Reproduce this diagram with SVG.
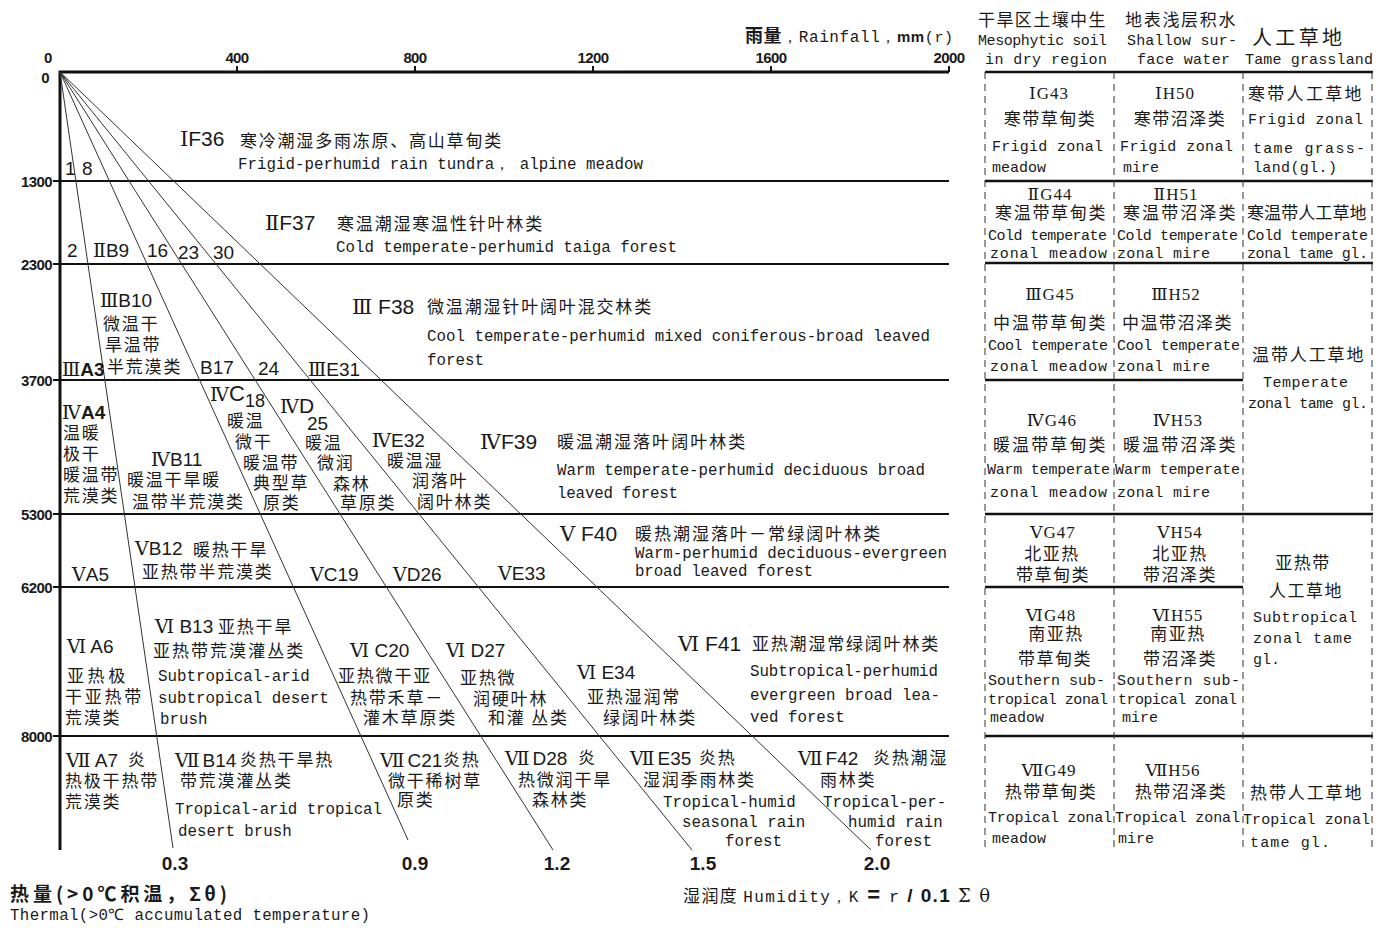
<svg xmlns="http://www.w3.org/2000/svg" width="1390" height="928" viewBox="0 0 1390 928">
<style>
text{fill:#1a1a1a}
.ax{font-family:"Liberation Sans",Arial,sans-serif;font-size:15px;font-weight:bold;letter-spacing:-0.6px}
.axl{font-family:"Liberation Sans",Arial,sans-serif;font-size:15px;font-weight:bold;letter-spacing:-0.6px;text-anchor:end}
.num{font-family:"Liberation Sans",Arial,sans-serif;font-size:19px;font-weight:bold;text-anchor:middle}
.cd{font-family:"Liberation Sans",Arial,sans-serif;font-size:19px}
.cdl{font-family:"Liberation Sans",Arial,sans-serif;font-size:21px}
.rn{font-family:"DejaVu Serif","Liberation Serif",serif;font-weight:normal}
.zh{font-family:"Noto Sans CJK SC",sans-serif;font-size:17px;letter-spacing:1.8px}
.en{font-family:"Liberation Mono",monospace;font-size:15.8px}
.tzh{font-family:"Noto Sans CJK SC",sans-serif;font-size:17px;letter-spacing:1.5px}
.tzc{font-family:"Noto Sans CJK SC",sans-serif;font-size:17px;letter-spacing:1.5px;text-anchor:middle}
.tcd{font-family:"Liberation Serif",serif;font-size:17px;text-anchor:middle;letter-spacing:1px}
.ten{font-family:"Liberation Mono",monospace;font-size:15px}
.grid{stroke:#111;stroke-width:2;fill:none}
.axis{stroke:#111;stroke-width:3;fill:none}
.tick{stroke:#111;stroke-width:2;fill:none}
.ray{stroke:#333;stroke-width:1;fill:none}
.tl{stroke:#111;stroke-width:2.5;fill:none}
.dash{stroke:#333;stroke-width:1;stroke-dasharray:7 5;fill:none}
</style>
<rect x="0" y="0" width="1390" height="928" fill="#ffffff"/>

<g id="axes">
  <path class="axis" d="M60 72 H949 M60 70.5 V850"/>
  <path class="grid" d="M60 181 H949 M60 264 H949 M60 380 H949 M60 514 H949 M60 587 H949 M60 736 H949"/>
  <path class="tick" d="M237 66 V72 M415 66 V72 M593 66 V72 M771 66 V72 M949 66 V72 M53 181 H60 M53 264 H60 M53 380 H60 M53 514 H60 M53 587 H60 M53 736 H60"/>
  <text class="ax" x="44" y="63">0</text>
  <text class="ax" x="237" y="63" text-anchor="middle">400</text>
  <text class="ax" x="415" y="63" text-anchor="middle">800</text>
  <text class="ax" x="593" y="63" text-anchor="middle">1200</text>
  <text class="ax" x="771" y="63" text-anchor="middle">1600</text>
  <text class="ax" x="949" y="63" text-anchor="middle">2000</text>
  <text class="axl" x="49" y="83">0</text>
  <text class="axl" x="52" y="187">1300</text>
  <text class="axl" x="52" y="270">2300</text>
  <text class="axl" x="52" y="386">3700</text>
  <text class="axl" x="52" y="520">5300</text>
  <text class="axl" x="52" y="593">6200</text>
  <text class="axl" x="52" y="742">8000</text>
  <text x="745" y="42" textLength="208"><tspan font-family="Noto Sans CJK SC,sans-serif" font-size="18" font-weight="bold">雨量</tspan><tspan font-family="Liberation Mono,monospace" font-size="16">，Rainfall，</tspan><tspan font-family="Liberation Sans,sans-serif" font-size="15" font-weight="bold">mm</tspan><tspan font-family="Liberation Mono,monospace" font-size="15">(r)</tspan></text>
  <text class="num" x="175" y="870">0.3</text>
  <text class="num" x="415" y="870">0.9</text>
  <text class="num" x="557" y="870">1.2</text>
  <text class="num" x="703" y="870">1.5</text>
  <text class="num" x="877" y="870">2.0</text>
  <text x="10" y="901" textLength="217" font-family="Noto Sans CJK SC,sans-serif" font-size="19" font-weight="bold">热量(&gt;0℃积温，Σθ)</text>
  <text class="en" x="10" y="920" textLength="360">Thermal(&gt;0℃ accumulated temperature)</text>
  <text x="683" y="902" textLength="307"><tspan font-family="Noto Sans CJK SC,sans-serif" font-size="17">湿润度 </tspan><tspan font-family="Liberation Mono,monospace" font-size="16">Humidity，K</tspan><tspan font-family="Liberation Sans,sans-serif" font-size="22" font-weight="bold"> = </tspan><tspan font-family="Liberation Mono,monospace" font-size="17">r</tspan><tspan font-family="Liberation Sans,sans-serif" font-size="19" font-weight="bold"> / 0.1 </tspan><tspan font-family="DejaVu Serif,serif" font-size="18">Σ θ</tspan></text>
</g>

<g id="connectors">
  <line class="ray" x1="60" y1="72" x2="173" y2="848"/>
  <line class="ray" x1="60" y1="72" x2="408" y2="840"/>
  <line class="ray" x1="60" y1="72" x2="553" y2="850"/>
  <line class="ray" x1="60" y1="72" x2="692" y2="850"/>
  <line class="ray" x1="60" y1="72" x2="871" y2="850"/>
</g>

<g id="n1"><text class="cd" x="65" y="175" font-size="18">1</text></g>
<g id="n8"><text class="cd" x="82" y="175" font-size="18">8</text></g>
<g id="IF36">
  <text class="cdl" x="180" y="146"><tspan class="rn">Ⅰ</tspan>F36</text>
  <text class="zh" x="240" y="147" textLength="263">寒冷潮湿多雨冻原、高山草甸类</text>
  <text class="en" x="238" y="169" textLength="405">Frigid-perhumid rain tundra， alpine meadow</text>
</g>
<g id="n2"><text class="cd" x="67" y="257" font-size="18">2</text></g>
<g id="IIB9"><text class="cd" x="93" y="257"><tspan class="rn">Ⅱ</tspan>B9</text></g>
<g id="n16"><text class="cd" x="147" y="257" font-size="18">16</text></g>
<g id="n23"><text class="cd" x="178" y="259" font-size="18">23</text></g>
<g id="n30"><text class="cd" x="213" y="259" font-size="18">30</text></g>
<g id="IIF37">
  <text class="cdl" x="265" y="230"><tspan class="rn">Ⅱ</tspan>F37</text>
  <text class="zh" x="337" y="230" textLength="207">寒温潮湿寒温性针叶林类</text>
  <text class="en" x="336" y="252" textLength="341">Cold temperate-perhumid taiga forest</text>
</g>

<g id="IIIA3"><text class="cd" x="62" y="376" font-size="17" font-weight="bold"><tspan class="rn">Ⅲ</tspan>A3</text></g>
<g id="IIIB10">
  <text class="cd" x="100" y="307"><tspan class="rn">Ⅲ</tspan>B10</text>
  <text class="zh" x="103" y="330">微温干</text>
  <text class="zh" x="105" y="351">旱温带</text>
  <text class="zh" x="107" y="373">半荒漠类</text>
</g>
<g id="B17"><text class="cd" x="200" y="374">B17</text></g>
<g id="n24"><text class="cd" x="258" y="375">24</text></g>
<g id="IIIE31"><text class="cd" x="308" y="376"><tspan class="rn">Ⅲ</tspan>E31</text></g>
<g id="IIIF38">
  <text class="cdl" x="352" y="314"><tspan class="rn">Ⅲ</tspan> F38</text>
  <text class="zh" x="427" y="313" textLength="226">微温潮湿针叶阔叶混交林类</text>
  <text class="en" x="427" y="341" textLength="503">Cool temperate-perhumid mixed coniferous-broad leaved</text>
  <text class="en" x="427" y="365">forest</text>
</g>

<g id="IVA4">
  <text class="cd" x="62" y="419" font-size="17" font-weight="bold"><tspan class="rn">Ⅳ</tspan>A4</text>
  <text class="zh" x="63" y="439">温暖</text>
  <text class="zh" x="63" y="460">极干</text>
  <text class="zh" x="63" y="481">暖温带</text>
  <text class="zh" x="63" y="502">荒漠类</text>
</g>
<g id="IVB11">
  <text class="cd" x="151" y="466"><tspan class="rn">Ⅳ</tspan>B11</text>
  <text class="zh" x="127" y="486">暖温干旱暖</text>
  <text class="zh" x="132" y="508">温带半荒漠类</text>
</g>
<g id="IVC18">
  <text class="cd" x="210" y="401"><tspan class="rn">Ⅳ</tspan><tspan font-size="22">C</tspan><tspan font-size="18" dy="6">18</tspan></text>
  <text class="zh" x="227" y="427">暖温</text>
  <text class="zh" x="235" y="448">微干</text>
  <text class="zh" x="243" y="469">暖温带</text>
  <text class="zh" x="253" y="489">典型草</text>
  <text class="zh" x="263" y="509">原类</text>
</g>
<g id="IVD25">
  <text class="cd" x="280" y="413"><tspan class="rn">Ⅳ</tspan><tspan font-size="21">D</tspan></text>
  <text class="cd" x="307" y="430" font-size="18">25</text>
  <text class="zh" x="305" y="449">暖温</text>
  <text class="zh" x="317" y="469">微润</text>
  <text class="zh" x="333" y="490">森林</text>
  <text class="zh" x="340" y="509">草原类</text>
</g>
<g id="IVE32">
  <text class="cd" x="372" y="447" font-size="20"><tspan class="rn">Ⅳ</tspan>E32</text>
  <text class="zh" x="387" y="467">暖温湿</text>
  <text class="zh" x="412" y="487">润落叶</text>
  <text class="zh" x="417" y="508">阔叶林类</text>
</g>
<g id="IVF39">
  <text class="cdl" x="480" y="449"><tspan class="rn">Ⅳ</tspan>F39</text>
  <text class="zh" x="557" y="448" textLength="190">暖温潮湿落叶阔叶林类</text>
  <text class="en" x="557" y="475" textLength="368">Warm temperate-perhumid deciduous broad</text>
  <text class="en" x="557" y="498" textLength="121">leaved forest</text>
</g>

<g id="VA5"><text class="cd" x="72" y="581"><tspan class="rn">Ⅴ</tspan>A5</text></g>
<g id="VB12">
  <text class="cd" x="135" y="555"><tspan class="rn">Ⅴ</tspan>B12</text>
  <text class="zh" x="193" y="556">暖热干旱</text>
  <text class="zh" x="142" y="578">亚热带半荒漠类</text>
</g>
<g id="VC19"><text class="cd" x="310" y="581"><tspan class="rn">Ⅴ</tspan>C19</text></g>
<g id="VD26"><text class="cd" x="393" y="581"><tspan class="rn">Ⅴ</tspan>D26</text></g>
<g id="VE33"><text class="cd" x="498" y="580"><tspan class="rn">Ⅴ</tspan>E33</text></g>
<g id="VF40">
  <text class="cdl" x="560" y="541"><tspan class="rn">Ⅴ</tspan> F40</text>
  <text class="zh" x="635" y="540" textLength="247">暖热潮湿落叶－常绿阔叶林类</text>
  <text class="en" x="635" y="558" textLength="312">Warm-perhumid deciduous-evergreen</text>
  <text class="en" x="635" y="576" textLength="178">broad leaved forest</text>
</g>

<g id="VIA6">
  <text class="cd" x="67" y="653" font-size="20"><tspan class="rn">Ⅵ</tspan> A6</text>
  <text class="zh" x="67" y="682" textLength="60">亚热极</text>
  <text class="zh" x="65" y="703" textLength="78">干亚热带</text>
  <text class="zh" x="65" y="724">荒漠类</text>
</g>
<g id="VIB13">
  <text class="cd" x="155" y="633" font-size="21"><tspan class="rn">Ⅵ</tspan> B13</text>
  <text class="zh" x="218" y="633">亚热干旱</text>
  <text class="zh" x="153" y="657" textLength="152">亚热带荒漠灌丛类</text>
  <text class="en" x="158" y="681">Subtropical-arid</text>
  <text class="en" x="158" y="703">subtropical desert</text>
  <text class="en" x="160" y="724">brush</text>
</g>
<g id="VIC20">
  <text class="cd" x="350" y="657" font-size="21"><tspan class="rn">Ⅵ</tspan> C20</text>
  <text class="zh" x="338" y="682">亚热微干亚</text>
  <text class="zh" x="350" y="704">热带禾草－</text>
  <text class="zh" x="363" y="724">灌木草原类</text>
</g>
<g id="VID27">
  <text class="cd" x="446" y="657" font-size="21"><tspan class="rn">Ⅵ</tspan> D27</text>
  <text class="zh" x="460" y="684">亚热微</text>
  <text class="zh" x="473" y="705">润硬叶林</text>
  <text class="zh" x="488" y="724">和灌 丛类</text>
</g>
<g id="VIE34">
  <text class="cd" x="577" y="679" font-size="21"><tspan class="rn">Ⅵ</tspan> E34</text>
  <text class="zh" x="587" y="703">亚热湿润常</text>
  <text class="zh" x="603" y="724">绿阔叶林类</text>
</g>
<g id="VIF41">
  <text class="cdl" x="678" y="651"><tspan class="rn">Ⅵ</tspan> F41</text>
  <text class="zh" x="752" y="650" textLength="188">亚热潮湿常绿阔叶林类</text>
  <text class="en" x="750" y="676" textLength="188">Subtropical-perhumid</text>
  <text class="en" x="750" y="700" textLength="190">evergreen broad lea-</text>
  <text class="en" x="750" y="722">ved forest</text>
</g>

<g id="VIIA7">
  <text class="cd" x="66" y="767" font-size="21"><tspan class="rn">Ⅶ</tspan> A7</text>
  <text class="zh" x="128" y="766">炎</text>
  <text class="zh" x="65" y="787">热极干热带</text>
  <text class="zh" x="65" y="808">荒漠类</text>
</g>
<g id="VIIB14">
  <text class="cd" x="175" y="767" font-size="21"><tspan class="rn">Ⅶ</tspan><tspan dx="3">B14</tspan></text>
  <text class="zh" x="240" y="766">炎热干旱热</text>
  <text class="zh" x="180" y="787">带荒漠灌丛类</text>
  <text class="en" x="175" y="814" textLength="207">Tropical-arid tropical</text>
  <text class="en" x="178" y="836">desert brush</text>
</g>
<g id="VIIC21">
  <text class="cd" x="380" y="767" font-size="21"><tspan class="rn">Ⅶ</tspan><tspan dx="3">C21</tspan></text>
  <text class="zh" x="443" y="766">炎热</text>
  <text class="zh" x="388" y="787">微干稀树草</text>
  <text class="zh" x="397" y="806">原类</text>
</g>
<g id="VIID28">
  <text class="cd" x="505" y="765" font-size="21"><tspan class="rn">Ⅶ</tspan><tspan dx="3">D28</tspan></text>
  <text class="zh" x="578" y="764">炎</text>
  <text class="zh" x="518" y="786">热微润干旱</text>
  <text class="zh" x="532" y="806">森林类</text>
</g>
<g id="VIIE35">
  <text class="cd" x="630" y="765" font-size="21"><tspan class="rn">Ⅶ</tspan><tspan dx="3">E35</tspan></text>
  <text class="zh" x="699" y="764">炎热</text>
  <text class="zh" x="643" y="786">湿润季雨林类</text>
  <text class="en" x="663" y="807">Tropical-humid</text>
  <text class="en" x="682" y="827">seasonal rain</text>
  <text class="en" x="725" y="846">forest</text>
</g>
<g id="VIIF42">
  <text class="cd" x="798" y="765" font-size="21"><tspan class="rn">Ⅶ</tspan><tspan dx="3">F42</tspan></text>
  <text class="zh" x="873" y="764">炎热潮湿</text>
  <text class="zh" x="820" y="786">雨林类</text>
  <text class="en" x="823" y="807">Tropical-per-</text>
  <text class="en" x="848" y="827">humid rain</text>
  <text class="en" x="875" y="846">forest</text>
</g>

<g id="table-lines">
  <path class="tl" d="M985 72 H1373 M985 181 H1373 M985 263 H1373 M985 380 H1243 M985 514 H1373 M985 587 H1243 M985 736 H1373"/>
  <path class="dash" d="M985 72 V850 M1114 72 V850 M1243 72 V850 M1372 72 V850"/>
</g>
<g id="table-header">
  <text class="tzh" x="978" y="26" textLength="129">干旱区土壤中生</text>
  <text class="tzh" x="1125" y="26" textLength="112">地表浅层积水</text>
  <text class="ten" x="978" y="45" textLength="129">Mesophytic soil</text>
  <text class="ten" x="1127" y="45" textLength="110">Shallow sur-</text>
  <text x="1252" y="45" textLength="90" font-family="Noto Sans CJK SC,sans-serif" font-size="20">人工草地</text>
  <text class="ten" x="985" y="64" textLength="122">in dry region</text>
  <text class="ten" x="1137" y="64" textLength="93">face water</text>
  <text class="ten" x="1245" y="64" textLength="128">Tame grassland</text>
</g>
<g id="IG43">
  <text class="tcd" x="1049" y="99"><tspan class="rn">Ⅰ</tspan>G43</text>
  <text class="tzc" x="1050" y="125">寒带草甸类</text>
  <text class="ten" x="992" y="151" textLength="111">Frigid zonal</text>
  <text class="ten" x="992" y="172">meadow</text>
</g>
<g id="IH50">
  <text class="tcd" x="1175" y="99"><tspan class="rn">Ⅰ</tspan>H50</text>
  <text class="tzc" x="1180" y="125">寒带沼泽类</text>
  <text class="ten" x="1120" y="151" textLength="113">Frigid zonal</text>
  <text class="ten" x="1123" y="172">mire</text>
</g>
<g id="I-tame">
  <text class="tzh" x="1248" y="100" textLength="115">寒带人工草地</text>
  <text class="ten" x="1248" y="124" textLength="115">Frigid zonal</text>
  <text class="ten" x="1253" y="153" textLength="112">tame  grass-</text>
  <text class="ten" x="1253" y="172" textLength="84">land(gl.)</text>
</g>
<g id="IIG44">
  <text class="tcd" x="1050" y="200"><tspan class="rn">Ⅱ</tspan>G44</text>
  <text class="tzh" x="995" y="219" textLength="112">寒温带草甸类</text>
  <text class="ten" x="988" y="240" textLength="119">Cold temperate</text>
  <text class="ten" x="990" y="258" textLength="117">zonal  meadow</text>
</g>
<g id="IIH51">
  <text class="tcd" x="1176" y="200"><tspan class="rn">Ⅱ</tspan>H51</text>
  <text class="tzh" x="1123" y="219" textLength="114">寒温带沼泽类</text>
  <text class="ten" x="1117" y="240" textLength="121">Cold temperate</text>
  <text class="ten" x="1117" y="258" textLength="93">zonal mire</text>
</g>
<g id="II-tame">
  <text class="tzh" x="1247" y="219" textLength="121">寒温带人工草地</text>
  <text class="ten" x="1247" y="240" textLength="121">Cold temperate</text>
  <text class="ten" x="1247" y="258" textLength="121">zonal tame gl.</text>
</g>
<g id="IIIG45">
  <text class="tcd" x="1050" y="300"><tspan class="rn">Ⅲ</tspan>G45</text>
  <text class="tzh" x="993" y="329" textLength="114">中温带草甸类</text>
  <text class="ten" x="988" y="350" textLength="120">Cool temperate</text>
  <text class="ten" x="990" y="371" textLength="117">zonal  meadow</text>
</g>
<g id="IIIH52">
  <text class="tcd" x="1176" y="300"><tspan class="rn">Ⅲ</tspan>H52</text>
  <text class="tzh" x="1122" y="329" textLength="111">中温带沼泽类</text>
  <text class="ten" x="1117" y="350" textLength="123">Cool temperate</text>
  <text class="ten" x="1117" y="371" textLength="93">zonal mire</text>
</g>
<g id="III-IV-tame">
  <text class="tzh" x="1252" y="361" textLength="113">温带人工草地</text>
  <text class="ten" x="1263" y="387" textLength="85">Temperate</text>
  <text class="ten" x="1248" y="408" textLength="120">zonal tame gl.</text>
</g>
<g id="IVG46">
  <text class="tcd" x="1052" y="426"><tspan class="rn">Ⅳ</tspan>G46</text>
  <text class="tzh" x="993" y="451" textLength="114">暖温带草甸类</text>
  <text class="ten" x="987" y="474" textLength="123">Warm temperate</text>
  <text class="ten" x="990" y="497" textLength="117">zonal  meadow</text>
</g>
<g id="IVH53">
  <text class="tcd" x="1178" y="426"><tspan class="rn">Ⅳ</tspan>H53</text>
  <text class="tzh" x="1123" y="451" textLength="114">暖温带沼泽类</text>
  <text class="ten" x="1115" y="474" textLength="125">Warm temperate</text>
  <text class="ten" x="1117" y="497" textLength="93">zonal mire</text>
</g>
<g id="VG47">
  <text class="tcd" x="1053" y="538"><tspan class="rn">Ⅴ</tspan>G47</text>
  <text class="tzc" x="1052" y="560">北亚热</text>
  <text class="tzc" x="1053" y="581">带草甸类</text>
</g>
<g id="VH54">
  <text class="tcd" x="1180" y="538"><tspan class="rn">Ⅴ</tspan>H54</text>
  <text class="tzc" x="1180" y="560">北亚热</text>
  <text class="tzc" x="1180" y="581">带沼泽类</text>
</g>
<g id="V-VI-tame">
  <text class="tzc" x="1303" y="569">亚热带</text>
  <text class="tzc" x="1306" y="597">人工草地</text>
  <text class="ten" x="1253" y="622" textLength="104">Subtropical</text>
  <text class="ten" x="1253" y="643" textLength="99">zonal  tame</text>
  <text class="ten" x="1253" y="664">gl.</text>
</g>
<g id="VIG48">
  <text class="tcd" x="1051" y="621"><tspan class="rn">Ⅵ</tspan>G48</text>
  <text class="tzc" x="1056" y="640">南亚热</text>
  <text class="tzc" x="1055" y="665">带草甸类</text>
  <text class="ten" x="988" y="685" textLength="117">Southern sub-</text>
  <text class="ten" x="988" y="704" textLength="120">tropical zonal</text>
  <text class="ten" x="990" y="722">meadow</text>
</g>
<g id="VIH55">
  <text class="tcd" x="1178" y="621"><tspan class="rn">Ⅵ</tspan>H55</text>
  <text class="tzc" x="1178" y="640">南亚热</text>
  <text class="tzc" x="1180" y="665">带沼泽类</text>
  <text class="ten" x="1117" y="685" textLength="123">Southern sub-</text>
  <text class="ten" x="1118" y="704" textLength="119">tropical zonal</text>
  <text class="ten" x="1122" y="722">mire</text>
</g>
<g id="VIIG49">
  <text class="tcd" x="1049" y="776"><tspan class="rn">Ⅶ</tspan>G49</text>
  <text class="tzc" x="1051" y="798">热带草甸类</text>
  <text class="ten" x="988" y="822" textLength="124">Tropical  zonal</text>
  <text class="ten" x="992" y="843">meadow</text>
</g>
<g id="VIIH56">
  <text class="tcd" x="1173" y="776"><tspan class="rn">Ⅶ</tspan>H56</text>
  <text class="tzc" x="1181" y="798">热带沼泽类</text>
  <text class="ten" x="1115" y="822" textLength="125">Tropical  zonal</text>
  <text class="ten" x="1118" y="843">mire</text>
</g>
<g id="VII-tame">
  <text class="tzh" x="1250" y="799" textLength="113">热带人工草地</text>
  <text class="ten" x="1243" y="824" textLength="127">Tropical  zonal</text>
  <text class="ten" x="1250" y="847" textLength="80">tame  gl.</text>
</g>
</svg>
